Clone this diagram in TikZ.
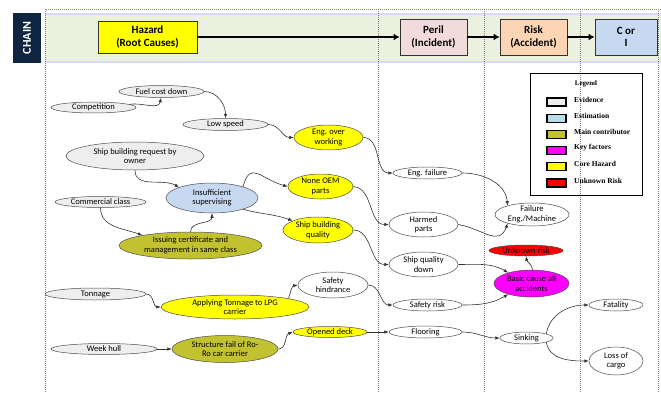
\documentclass[tikz,border=0pt]{standalone}
\usepackage{fontspec}
\setmainfont{Carlito}
\newfontfamily\legendfont{Liberation Serif}
\usetikzlibrary{shapes.geometric,arrows.meta}

\definecolor{evid}{HTML}{EEEEEE}
\definecolor{estim}{HTML}{C6D9F1}
\definecolor{legest}{HTML}{B7DEE8}
\definecolor{mainc}{HTML}{C2C231}
\definecolor{keyf}{HTML}{FF00FF}
\definecolor{coreh}{HTML}{FFFF00}
\definecolor{unkn}{HTML}{FF0000}
\definecolor{navy}{HTML}{0F243E}
\definecolor{bandc}{HTML}{EBF0DF}
\definecolor{perilc}{HTML}{F2DCDB}
\definecolor{riskc}{HTML}{FCD5B4}
\definecolor{cic}{HTML}{C6D9F1}

\tikzstyle{bubble}=[ellipse,draw=black!70,line width=0.5pt,inner xsep=-4pt,inner ysep=-1pt,align=center,font=\fontsize{8.5}{9.5}\selectfont]
\tikzstyle{evnode}=[bubble,fill=evid]
\tikzstyle{plainnode}=[bubble,fill=white]
\tikzstyle{estnode}=[bubble,fill=estim]
\tikzstyle{mainnode}=[bubble,fill=mainc]
\tikzstyle{corenode}=[bubble,fill=coreh]
\tikzstyle{keynode}=[bubble,fill=keyf,text=black]
\tikzstyle{unknode}=[bubble,fill=unkn,text=black]
\tikzstyle{hdr}=[draw=black!80,line width=0.8pt,align=center,inner sep=0pt,font=\fontsize{11}{12.5}\selectfont\bfseries]
\tikzstyle{link}=[draw=black!80,line width=0.6pt,-{Latex[length=4.5pt,width=3.5pt]}]
\tikzstyle{chainarrow}=[line width=2pt,-{Latex[length=6pt,width=7pt]}]
\tikzstyle{sepline}=[gray,line width=0.5pt,dash pattern=on 1pt off 1pt]
\tikzstyle{swatch}=[draw,line width=1.2pt,minimum width=19pt,minimum height=8pt,inner sep=0pt]
\tikzstyle{legtext}=[inner sep=0pt,font=\legendfont\bfseries\fontsize{7.5}{8}\selectfont]
\tikzset{wh/.style 2 args={minimum width=#1pt,minimum height=#2pt}}

\begin{document}
\begin{tikzpicture}[x=1pt,y=1pt]
\useasboundingbox (0,0) rectangle (661,392);
\fill[bandc] (45,329) rectangle (661,379);
\draw[white!85!blue,line width=1.5pt] (45,378) -- (661,378) (45,330) -- (661,330);
\draw[sepline] (45,0) -- (45,383) -- (661,383);
\foreach \x in {378,484,580,658}
  \draw[sepline] (\x,383) -- (\x,0);
\node[fill=navy,rotate=90,wh={50}{28},inner sep=0pt,text=white,font=\fontsize{12}{12}\selectfont\bfseries] (chain) at (27,354) {CHAIN};

\node[hdr,fill=coreh,wh={99}{32}] (hazard) at (147.5,355) {Hazard\\(Root Causes)};
\node[hdr,fill=perilc,wh={67}{36}] (peril) at (433.5,355) {Peril\\(Incident)};
\node[hdr,fill=riskc,wh={67}{36}] (risk) at (533.5,355) {Risk\\(Accident)};
\node[hdr,fill=cic,wh={62}{36}] (cori) at (626,355) {C or\\I};
\draw[chainarrow] (hazard) -- (peril);
\draw[chainarrow] (peril) -- (risk);
\draw[chainarrow] (risk) -- (cori);

\node[evnode,wh={85}{12}] (fuel) at (161.5,300.5) {Fuel cost down};
\node[evnode,wh={85}{11}] (comp) at (93.5,284.5) {Competition};
\node[evnode,wh={85}{12}] (lowspd) at (225.5,267.5) {Low speed};
\node[corenode,wh={69}{25}] (engover) at (328.5,254.5) {Eng. over\\working};
\node[evnode,wh={138}{28}] (shipreq) at (135,236) {Ship building request by\\owner};
\node[estnode,wh={92}{30}] (insuff) at (212,194) {Insufficient\\supervising};
\node[evnode,wh={91}{11}] (comm) at (100.5,190) {Commercial class};
\node[mainnode,wh={143}{27}] (issuing) at (190.5,146.5) {Issuing certificate and\\management in same class};
\node[corenode,wh={65}{25}] (noneoem) at (320.5,205.5) {None OEM\\parts};
\node[corenode,wh={70}{26}] (shipqual) at (318,162) {Ship building\\quality};
\node[evnode,wh={101}{12}] (tonnage) at (95.5,98) {Tonnage};
\node[corenode,wh={148}{24}] (applying) at (235,85) {Applying Tonnage to LPG\\carrier};
\node[evnode,wh={106}{11}] (weekhull) at (104,43) {Week hull};
\node[mainnode,wh={106}{27}] (structure) at (225,43) {Structure fail of Ro-\\Ro car carrier};
\node[corenode,wh={74}{11}] (opened) at (330,60) {Opened deck};
\node[plainnode,wh={70}{26}] (safetyh) at (333,107) {Safety\\hindrance};

\node[plainnode,wh={69}{12}] (engfail) at (427.5,219) {Eng. failure};
\node[plainnode,wh={69}{25}] (harmed) at (423.5,167.5) {Harmed\\parts};
\node[plainnode,wh={69}{25}] (sqdown) at (423.5,127.5) {Ship quality\\down};
\node[plainnode,wh={69}{12}] (safetyrisk) at (427.5,87) {Safety risk};
\node[plainnode,wh={73}{12}] (flooring) at (425.5,60) {Flooring};

\node[plainnode,wh={74}{23}] (failure) at (532,177.5) {Failure\\Eng./Machine};
\node[unknode,wh={74}{11}] (unknown) at (526,141.5) {Unknown risk};
\node[keynode,wh={75}{27}] (basic) at (531.5,108.5) {Basic cause all\\accidents};
\node[plainnode,wh={53}{12}] (sinking) at (526.5,54) {Sinking};
\node[plainnode,wh={54}{12}] (fatality) at (616,87) {Fatality};
\node[plainnode,wh={54}{28}] (loss) at (616,31) {Loss of\\cargo};

\draw[link] (comp.5) to[out=10,in=-100] (fuel.-95);
\draw[link] (fuel.east) to[out=0,in=90] (lowspd.north);
\draw[link] (lowspd.east) to[out=0,in=180] (engover.west);
\draw[link] (shipreq.south) to[out=-90,in=150] (insuff.162);
\draw[link] (comm.south) to[out=-90,in=160] (issuing.168);
\draw[link] (issuing.north) to[out=90,in=-90] (insuff.south);
\draw[link] (insuff.20) to[out=75,in=165,looseness=1.6] (noneoem.west);
\draw[link] (insuff.-20) to[out=-15,in=160] (shipqual.160);
\draw[link] (engover.east) to[out=0,in=180] (engfail.west);
\draw[link] (noneoem.east) to[out=-5,in=180] (harmed.west);
\draw[link] (shipqual.east) to[out=0,in=180] (sqdown.west);
\draw[link] (safetyh.east) to[out=0,in=180] (safetyrisk.west);
\draw[link] (applying.9) to[out=70,in=190] (safetyh.west);
\draw[link] (tonnage.east) to[out=0,in=180] (applying.west);
\draw[link] (weekhull) -- (structure);
\draw[link] (structure.east) to[out=0,in=200] (opened.west);
\draw[link] (opened) -- (flooring);
\draw[link] (flooring.east) to[out=0,in=180] (sinking.west);
\draw[link] (engfail.east) to[out=0,in=95] (failure.160);
\draw[link] (harmed.east) to[out=-10,in=-110,looseness=1.3] (failure.-160);
\draw[link] (sqdown.east) to[out=0,in=150] (basic.155);
\draw[link] (safetyrisk.east) to[out=0,in=-150] (basic.-155);
\draw[link] (basic.85) to[out=100,in=-80] (unknown.south);
\draw[link] (sinking.12) to[out=80,in=180] (fatality.west);
\draw[link] (sinking.-12) to[out=-80,in=180] (loss.west);

\node[draw,line width=1pt,wh={112}{122}] (legend) at (586,258) {};
\node[legtext,font=\legendfont\bfseries\fontsize{7}{7}\selectfont] (legtitle) at (586,308) {Legend};
\foreach \c/\t [count=\i from 0] in {evid/Evidence,legest/Estimation,mainc/Main contributor,keyf/Key factors,coreh/Core Hazard,unkn/Unknown Risk} {
  \node[swatch,fill=\c] (sw\i) at (556.5,{290-16.2*\i}) {};
  \node[legtext,anchor=west] (lt\i) at (574,{292.5-16.2*\i}) {\t};
}
\end{tikzpicture}
\end{document}
